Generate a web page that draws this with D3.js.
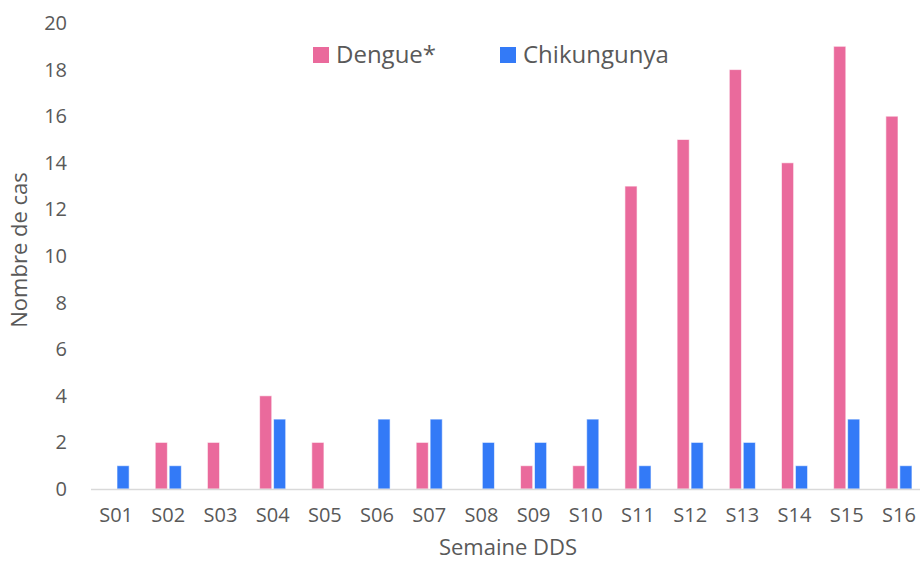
<!DOCTYPE html>
<html>
<head>
<meta charset="utf-8">
<script src="https://cdn.jsdelivr.net/npm/d3@7"></script>
<style>
  body { margin: 0; background: #fff; }
  text { font-family: "Open Sans", "Liberation Sans", sans-serif; fill: #595959; }
</style>
</head>
<body>
<svg id="chart" width="920" height="561"></svg>
<script>
const weeks = ['S01','S02','S03','S04','S05','S06','S07','S08','S09','S10','S11','S12','S13','S14','S15','S16']
const dengue = [0, 2, 2, 4, 2, 0, 2, 0, 1, 1, 13, 15, 18, 14, 19, 16]
const chik = [1, 1, 0, 3, 0, 3, 3, 2, 2, 3, 1, 2, 2, 1, 3, 1]
const seriesNames = ['Dengue*', 'Chikungunya']
const yTicks = [0, 2, 4, 6, 8, 10, 12, 14, 16, 18, 20]

const colors = ['#EA6A9C', '#337AF7']

let svg = d3.select('#chart')

// plot area runs a bit past the right edge, like the original
let xScale = d3.scaleBand()
  .domain(weeks)
  .range([90, 925])
  .paddingInner(0.5)
  .paddingOuter(0.25)

let inner = d3.scaleBand()
  .domain(seriesNames)
  .range([0, xScale.bandwidth()])
  .paddingInner(0.13)

let yScale = d3.scaleLinear()
  .domain([0, 20])
  .range([489, 23])

let rows = weeks.map((w, i) => ({ week: w, values: [dengue[i], chik[i]] }))

let groups = svg.selectAll('g.week')
  .data(rows)
  .enter()
  .append('g')
  .attr('class', 'week')
  .attr('transform', d => `translate(${xScale(d.week)},0)`)

groups.selectAll('rect')
  .data(d => d.values.map((v, j) => ({ name: seriesNames[j], v: v, j: j })).filter(e => e.v > 0))
  .enter()
  .append('rect')
  .attr('x', d => inner(d.name))
  .attr('y', d => yScale(d.v))
  .attr('width', inner.bandwidth())
  .attr('height', d => yScale(0) - yScale(d.v))
  .attr('fill', d => colors[d.j])
  .attr('stroke', '#fff')
  .attr('stroke-opacity', 0.6)
  .attr('stroke-width', 1)

// baseline
svg.append('line')
  .attr('x1', 91).attr('x2', 920)
  .attr('y1', yScale(0) + 0.5).attr('y2', yScale(0) + 0.5)
  .attr('stroke', '#d9d9d9')
  .attr('stroke-width', 1.5)

// y axis labels
let yAxis = svg.append('g')
  .attr('transform', 'translate(67,0)')
  .call(d3.axisLeft(yScale).tickValues(yTicks).tickSize(0).tickPadding(0))
yAxis.select('.domain').remove()
yAxis.selectAll('text').attr('font-size', 20).attr('fill', '#595959')
  .style('font-family', '"Open Sans", sans-serif')

// x axis labels
let xAxis = svg.append('g')
  .attr('transform', `translate(0,${yScale(0)})`)
  .call(d3.axisBottom(xScale).tickSize(0).tickPadding(19))
xAxis.select('.domain').remove()
xAxis.selectAll('text').attr('font-size', 20).attr('fill', '#595959')
  .style('font-family', '"Open Sans", sans-serif')

// axis titles
svg.append('text')
  .attr('x', 508).attr('y', 555)
  .attr('text-anchor', 'middle')
  .attr('font-size', 22)
  .text('Semaine DDS')

svg.append('text')
  .attr('transform', 'translate(27,250) rotate(-90)')
  .attr('text-anchor', 'middle')
  .attr('font-size', 22)
  .text('Nombre de cas')

// legend
let legendX = [313, 500]
seriesNames.forEach((name, i) => {
  svg.append('rect')
    .attr('x', legendX[i]).attr('y', 47)
    .attr('width', 16).attr('height', 16)
    .attr('fill', colors[i])
  svg.append('text')
    .attr('x', legendX[i] + 23).attr('y', 63)
    .attr('font-size', 24)
    .text(name)
})
</script>
</body>
</html>
